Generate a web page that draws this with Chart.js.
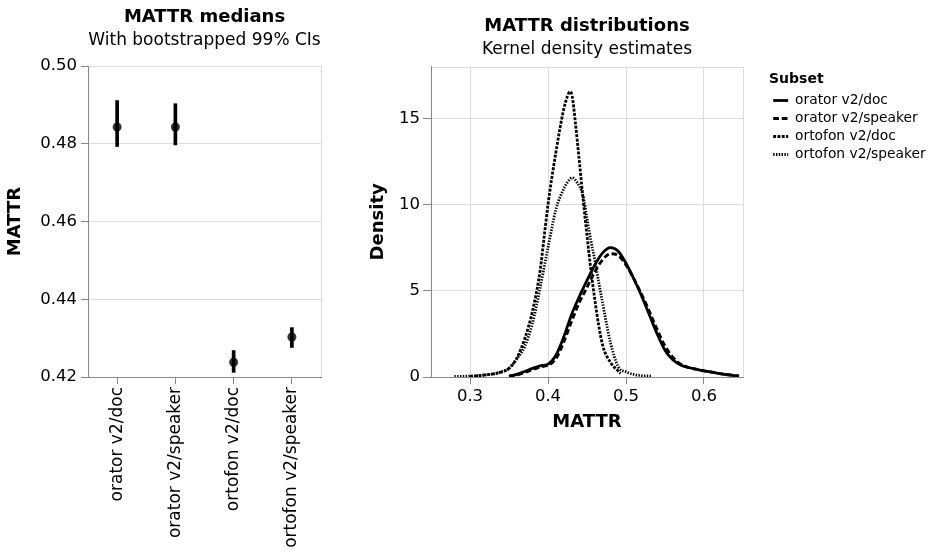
<!DOCTYPE html>
<html><head><meta charset="utf-8">
<script src="https://cdn.jsdelivr.net/npm/chart.js@4.4.1/dist/chart.umd.min.js"></script>
<style>
html,body{margin:0;padding:0;background:#fff;}
#wrap{position:relative;width:937px;height:552px;overflow:hidden;background:#fff;}
canvas{position:absolute;top:0;}
#c1{left:0;} #c2{left:345px;}
</style></head><body>
<div id="wrap"><canvas id="c1" width="345" height="552"></canvas><canvas id="c2" width="592" height="552"></canvas></div>
<script>
// ---------- Left panel data ----------
const subsets = ['orator v2/doc', 'orator v2/speaker', 'ortofon v2/doc', 'ortofon v2/speaker'];
const medians = [0.4843, 0.4843, 0.4238, 0.4303];
const ciLow   = [0.4793, 0.4797, 0.4212, 0.4276];
const ciHigh  = [0.4911, 0.4903, 0.4268, 0.4327];
const medianTicks = [0.42, 0.44, 0.46, 0.48, 0.50];

// ---------- Right panel data (KDE curves) ----------
const oratorDocX = [0.35,0.36,0.37,0.38,0.39,0.40,0.41,0.42,0.43,0.44,0.45,0.46,0.47,0.48,0.49,0.50,0.51,0.52,0.53,0.54,0.55,0.56,0.57,0.58,0.59,0.60,0.61,0.62,0.63,0.64];
const oratorDocY = [0.05,0.15,0.32,0.5,0.65,0.75,1.25,2.3,3.6,4.65,5.6,6.5,7.2,7.5,7.3,6.6,5.7,4.7,3.6,2.5,1.55,1.0,0.7,0.55,0.45,0.35,0.28,0.2,0.13,0.08];
const oratorSpkX = [0.35,0.36,0.37,0.38,0.39,0.40,0.41,0.42,0.43,0.44,0.45,0.46,0.47,0.48,0.49,0.50,0.51,0.52,0.53,0.54,0.55,0.56,0.57,0.58,0.59,0.60,0.61,0.62,0.63,0.64,0.645];
const oratorSpkY = [0.05,0.12,0.25,0.42,0.58,0.68,1.05,2.0,3.2,4.3,5.2,6.1,6.8,7.15,7.05,6.5,5.7,4.8,3.8,2.75,1.8,1.15,0.75,0.55,0.45,0.36,0.28,0.2,0.14,0.09,0.07];
const ortofonDocX = [0.30,0.31,0.32,0.33,0.34,0.35,0.36,0.37,0.38,0.39,0.395,0.40,0.41,0.42,0.425,0.428,0.431,0.435,0.44,0.445,0.45,0.455,0.46,0.465,0.47,0.48,0.49,0.493];
const ortofonDocY = [0.04,0.07,0.12,0.18,0.28,0.5,1.1,2.2,3.8,6.2,8.1,10.0,13.0,15.5,16.3,16.55,16.3,14.8,12.6,10.3,8.2,6.2,4.5,3.0,1.85,0.85,0.35,0.2];
const ortofonSpkX = [0.28,0.29,0.30,0.31,0.32,0.33,0.34,0.35,0.36,0.37,0.38,0.39,0.40,0.41,0.42,0.425,0.431,0.437,0.445,0.45,0.455,0.46,0.465,0.47,0.475,0.48,0.49,0.50,0.51,0.52,0.533];
const ortofonSpkY = [0.03,0.04,0.05,0.08,0.12,0.18,0.3,0.5,1.05,1.75,3.1,5.2,7.5,9.7,10.9,11.3,11.56,11.3,10.5,9.2,7.9,6.8,5.5,4.3,3.1,2.0,0.6,0.3,0.15,0.08,0.05];
const mattrTicks = [0.3, 0.4, 0.5, 0.6];
const densityTicks = [0, 5, 10, 15];

// ---------- Common ----------
const FONT = 'DejaVu Sans';
Chart.defaults.font.family = FONT;
Chart.defaults.color = '#000';
Chart.defaults.animation = false;

const framePlugin = {
  id: 'frame',
  beforeDraw(chart) {
    const a = chart.chartArea, c = chart.ctx;
    c.save();
    c.strokeStyle = '#ddd'; c.lineWidth = 1;
    c.strokeRect(Math.round(a.left) + 0.5, Math.round(a.top) + 0.5, Math.round(a.right - a.left), Math.round(a.bottom - a.top));
    c.restore();
  }
};
const fixTicks = arr => (s => { s.ticks = arr.map(v => ({ value: v })); });

// ---------- Left chart ----------
new Chart(document.getElementById('c1'), {
  type: 'bar',
  data: {
    labels: subsets,
    datasets: [
      { type: 'bar', label: '99% CI', data: subsets.map((s, i) => [ciLow[i], ciHigh[i]]),
        backgroundColor: '#000', barThickness: 3, borderWidth: 0, order: 0 },
      { type: 'line', label: 'Median', data: medians, showLine: false,
        pointRadius: 4.5, pointBackgroundColor: '#333', pointBorderWidth: 0, order: 1 }
    ]
  },
  options: {
    responsive: false, animation: false,
    layout: { padding: { left: 0, right: 24, top: 0, bottom: 0 } },
    plugins: {
      legend: { display: false }, tooltip: { enabled: false },
      title: { display: true, text: 'MATTR medians', fullSize: false, color: '#000',
        font: { size: 18, weight: 'bold' }, padding: { top: 7, bottom: 0 } },
      subtitle: { display: true, text: 'With bootstrapped 99% CIs', fullSize: false, color: '#000',
        font: { size: 17 }, padding: { top: 2, bottom: 15 } }
    },
    scales: {
      x: {
        type: 'category', offset: true,
        grid: { display: true, drawOnChartArea: false, offset: false, tickLength: 7, tickColor: '#888' },
        border: { color: '#888' },
        ticks: { minRotation: 90, maxRotation: 90, padding: 3, autoSkip: false, font: { size: 17 }, color: '#000' },
        afterFit(s) { s.height = 175; }
      },
      y: {
        type: 'linear', min: 0.42, max: 0.50,
        afterBuildTicks: fixTicks(medianTicks),
        ticks: { callback: v => Number(v).toFixed(2), font: { size: 16.5 }, padding: 4, color: '#000' },
        grid: { color: '#ddd', tickColor: '#888', tickLength: 7 },
        border: { color: '#888' },
        title: { display: true, text: 'MATTR', color: '#000', font: { size: 18, weight: 'bold' }, padding: { top: 5, bottom: 0 } },
        afterFit(s) { s.width = 88; }
      }
    }
  },
  plugins: [framePlugin]
});

// ---------- Right chart ----------
const mk = (label, xs, ys, dash) => ({
  label, data: xs.map((x, i) => ({ x, y: ys[i] })),
  borderColor: '#000', backgroundColor: '#000', borderWidth: 2.8, borderDash: dash,
  pointRadius: 0, cubicInterpolationMode: 'monotone', fill: false
});

new Chart(document.getElementById('c2'), {
  type: 'line',
  data: {
    datasets: [
      mk('orator v2/doc', oratorDocX, oratorDocY, []),
      mk('orator v2/speaker', oratorSpkX, oratorSpkY, [5.7, 2.9]),
      mk('ortofon v2/doc', ortofonDocX, ortofonDocY, [2.9, 1.4]),
      mk('ortofon v2/speaker', ortofonSpkX, ortofonSpkY, [1.4, 1.4])
    ]
  },
  options: {
    responsive: false, animation: false,
    layout: { padding: { left: 0, right: 8, top: 0, bottom: 0 } },
    plugins: {
      tooltip: { enabled: false },
      title: { display: true, text: 'MATTR distributions', fullSize: false, color: '#000',
        font: { size: 18, weight: 'bold' }, padding: { top: 16, bottom: 0 } },
      subtitle: { display: true, text: 'Kernel density estimates', fullSize: false, color: '#000',
        font: { size: 17 }, padding: { top: 2.2, bottom: 6.5 } },
      legend: {
        display: true, position: 'right', align: 'start', maxWidth: 160,
        title: { display: true, text: 'Subset', position: 'start', color: '#000',
          font: { size: 14, weight: 'bold' }, padding: { top: 72.6, bottom: 0 } },
        labels: {
          usePointStyle: true, pointStyle: 'line', pointStyleWidth: 15, padding: 4.2,
          font: { size: 13.8 }, color: '#000',
          generateLabels: chart => chart.data.datasets.map((ds, i) => ({
            text: ds.label, fillStyle: '#000', strokeStyle: '#000', fontColor: '#000',
            lineWidth: ds.borderWidth, lineDash: ds.borderDash, lineCap: 'butt',
            pointStyle: 'line', hidden: false, datasetIndex: i
          }))
        }
      }
    },
    scales: {
      x: {
        type: 'linear', min: 0.25, max: 0.65,
        afterBuildTicks: fixTicks(mattrTicks),
        ticks: { callback: v => Number(v).toFixed(1), font: { size: 16.5 }, padding: 3, color: '#000' },
        grid: { color: '#ddd', tickColor: '#888', tickLength: 7 },
        border: { color: '#888' },
        title: { display: true, text: 'MATTR', color: '#000', font: { size: 18, weight: 'bold' }, padding: { top: 0, bottom: 119 } },
        afterFit(s) { s.height = 175; }
      },
      y: {
        type: 'linear', min: 0, max: 18,
        afterBuildTicks: fixTicks(densityTicks),
        ticks: { font: { size: 16.5 }, padding: 3, color: '#000' },
        grid: { color: '#ddd', tickColor: '#888', tickLength: 8 },
        border: { color: '#888' },
        title: { display: true, text: 'Density', color: '#000', font: { size: 18, weight: 'bold' }, padding: { top: 22.5, bottom: 0 } },
        afterFit(s) { s.width = 86; }
      },
      yR: {
        type: 'linear', position: 'right', display: true,
        ticks: { display: false }, grid: { display: false }, border: { display: false },
        afterFit(s) { s.width = 26; }
      }
    }
  },
  plugins: [framePlugin]
});
</script>
</body></html>
